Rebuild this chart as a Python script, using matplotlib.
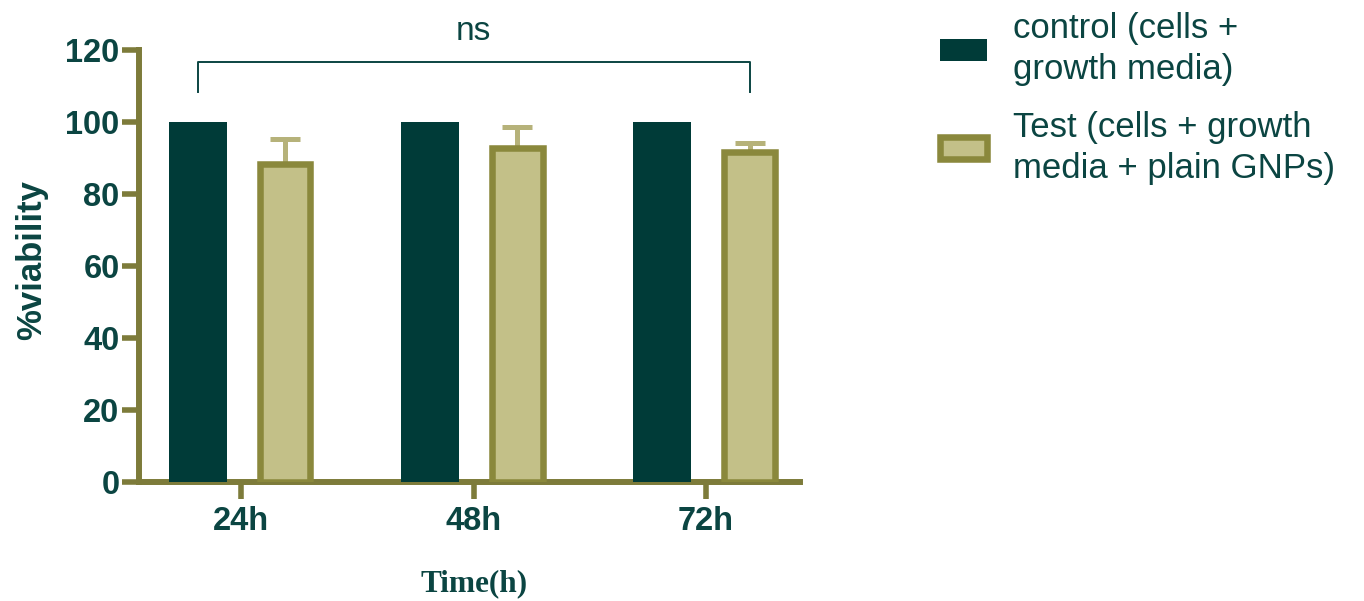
import matplotlib
matplotlib.use("Agg")
import matplotlib.pyplot as plt
import numpy as np

# Data
times = ["24h", "48h", "72h"]
control_mean = [100, 100, 100]
test_mean = [88.4, 92.8, 91.8]
test_sd = [6.9, 5.8, 2.5]
series_labels = ["control (cells +\ngrowth media)",
                 "Test (cells + growth\nmedia + plain GNPs)"]
yticks = [0, 20, 40, 60, 80, 100, 120]

# Colours
c_control = "#003b38"
c_test_fill = "#c3c088"
c_test_edge = "#8a883c"
c_err = "#b6b27a"
c_axis = "#7d7b3a"
c_text = "#0b4542"

plt.rcParams["font.family"] = ["Liberation Sans", "DejaVu Sans"]

fig = plt.figure(figsize=(13.64, 6.01), dpi=100)
ax = fig.add_axes([139 / 1364, 1 - 482 / 601, 661 / 1364, 432 / 601])

x = np.arange(len(times))
off = 0.188
ax.bar(x - off, control_mean, width=0.25, color=c_control, zorder=3,
       label=series_labels[0])
ax.errorbar(x + off, test_mean, yerr=test_sd, fmt="none", ecolor=c_err,
            elinewidth=3.6, capsize=10.5, capthick=3.6, zorder=2)
ax.bar(x + off, test_mean, width=0.218, color=c_test_fill,
       edgecolor=c_test_edge, linewidth=4.7, zorder=3,
       label=series_labels[1])

ax.set_xlim(-0.44, 2.405)
ax.set_ylim(0, 120)
ax.set_yticks(yticks)
ax.set_xticks(x)
ax.set_xticklabels(times)

for s in ["top", "right"]:
    ax.spines[s].set_visible(False)
for s in ["left", "bottom"]:
    ax.spines[s].set_color(c_axis)
    ax.spines[s].set_linewidth(4.3)
    ax.spines[s].set_capstyle("projecting")
ax.tick_params(axis="both", colors=c_axis, width=4, length=12,
               labelcolor=c_text, labelsize=23.5)
ax.tick_params(axis="y", pad=2)
ax.tick_params(axis="x", pad=5)
for lab in ax.get_xticklabels() + ax.get_yticklabels():
    lab.set_fontweight("bold")

ax.set_ylabel("%viability", fontsize=25, fontweight="bold", color=c_text)
ax.yaxis.set_label_coords(-0.163, 0.513)
ax.yaxis.label.set_va("center")
ax.set_xlabel("Time(h)", fontsize=22.5, fontweight="bold", color=c_text,
              family=["Liberation Serif", "DejaVu Serif"])
ax.xaxis.set_label_coords(0.507, -0.236)
ax.xaxis.label.set_va("center")

# Significance bracket across all groups
bx0, bx1 = -off, 2 + off
by_top, by_leg = 116.7, 108.3
ax.plot([bx0, bx0, bx1, bx1], [by_leg, by_top, by_top, by_leg],
        color=c_text, lw=1.4, clip_on=False, zorder=4)
ax.text((bx0 + bx1) / 2, by_top + 4.0, "ns", ha="center", va="bottom",
        fontsize=24, color=c_text, clip_on=False)

leg = fig.legend(loc="upper left", bbox_to_anchor=(940 / 1364, 1 - 12 / 601),
                 frameon=False, fontsize=25, handlelength=1.35,
                 handleheight=0.6, handletextpad=0.75, labelspacing=0.72,
                 borderpad=0, borderaxespad=0, labelcolor=c_text)
for t in leg.get_texts():
    t.set_linespacing(1.3)

fig.savefig("out.png", dpi=100, facecolor="white")
